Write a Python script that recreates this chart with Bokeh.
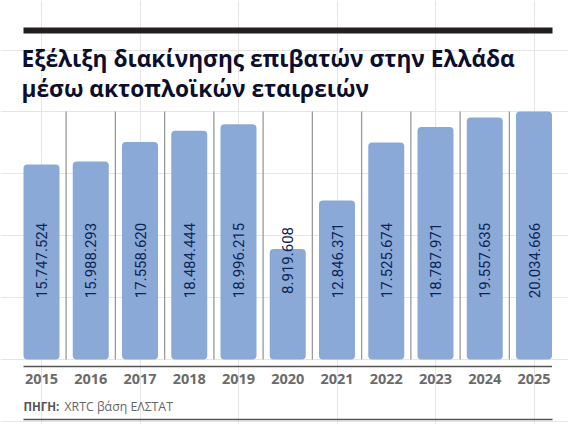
import math
from bokeh.plotting import figure
from bokeh.models import Range1d, ColumnDataSource
from bokeh.core.properties import value
from bokeh.embed import file_html
from bokeh.resources import INLINE

# ---- data ----
years = ["2015", "2016", "2017", "2018", "2019", "2020", "2021", "2022", "2023", "2024", "2025"]
passengers = [15747524, 15988293, 17558620, 18484444, 18996215, 8919608, 12846371,
              17525674, 18787971, 19557635, 20034666]
value_labels = ["15.747.524", "15.988.293", "17.558.620", "18.484.444", "18.996.215", "8.919.608",
                "12.846.371", "17.525.674", "18.787.971", "19.557.635", "20.034.666"]
title_lines = ["Εξέλιξη διακίνησης επιβατών στην Ελλάδα", "μέσω ακτοπλοϊκών εταιρειών"]
source_bold = "ΠΗΓΗ:"
source_text = "XRTC βάση ΕΛΣΤΑΤ"

# ---- layout constants ----
W, H = 568, 424
PX_PER_CAT = 49.25
FIRST_CENTER_PX = 41.0
PX_PER_UNIT = 12.38e-6      # pixels per passenger
ZERO_PX = 359.0             # canvas y (from top) of value 0

x_start = -FIRST_CENTER_PX / PX_PER_CAT
x_end = x_start + W / PX_PER_CAT
y_start = -(H - ZERO_PX) / PX_PER_UNIT
y_end = y_start + H / PX_PER_UNIT


def y_at(px):
    """data value at a canvas pixel row (from top)"""
    return y_start + (H - px) / PX_PER_UNIT


BAR_COLOR = "#8aa9d6"
LABEL_COLOR = "#0d2456"
TITLE_COLOR = "#0b0e2c"
YEAR_COLOR = "#6b6b6b"

p = figure(width=W, height=H, output_backend="svg", toolbar_location=None,
           x_axis_location=None, y_axis_location=None,
           x_range=Range1d(x_start, x_end), y_range=Range1d(y_start, y_end),
           min_border=0, min_border_left=0, min_border_right=0,
           min_border_top=0, min_border_bottom=0)
p.outline_line_color = None
p.background_fill_color = "white"
p.border_fill_color = "white"
p.extra_x_ranges = {"px": Range1d(0, W)}
p.extra_y_ranges = {"px": Range1d(H, 0)}

idx = list(range(len(years)))
src = ColumnDataSource(dict(x=idx, top=passengers, label=value_labels, year=years))

# separators between bars
sep_x = [i + 0.5 for i in idx[:-1]]
p.segment(x0=sep_x, x1=sep_x, y0=[0] * len(sep_x), y1=[max(passengers)] * len(sep_x),
          line_color="#9a9a9a", line_width=1.3)

# bars
BAR_W = 36 / PX_PER_CAT
p.vbar(x="x", top="top", bottom=0, width=BAR_W, source=src,
       fill_color=BAR_COLOR, line_color=None, border_radius=4)

# value labels (rotated), centred at a fixed height
label_y = 8.0e6
p.text(x="x", y=label_y, text="label", source=src, angle=math.pi / 2,
       text_align="center", text_baseline="middle",
       text_font=value("Roboto"), text_font_size="15px", text_color=LABEL_COLOR)

# year labels
p.text(x="x", y=y_at(378), text="year", source=src,
       text_align="center", text_baseline="middle",
       text_font=value("Open Sans"), text_font_style="bold", text_font_size="14.5px",
       text_color=YEAR_COLOR)

# baseline under the bars
base_y = y_at(366)
p.segment(x0=[0 - BAR_W / 2], x1=[len(years) - 1 + BAR_W / 2],
          y0=[base_y], y1=[base_y],
          line_color="#555555", line_width=1.6)

# decorations in pixel coordinates
p.quad(left=[23], right=[552], top=[27], bottom=[33], fill_color="#231f20", line_color=None,
       x_range_name="px", y_range_name="px")
p.text(x=[21, 21], y=[58, 88], text=title_lines, x_range_name="px", y_range_name="px",
       text_align="left", text_baseline="middle",
       text_font=value("Open Sans"), text_font_style="bold", text_font_size="22.7px",
       text_color=TITLE_COLOR)
p.text(x=[23], y=[406], text=[source_bold], x_range_name="px", y_range_name="px",
       text_align="left", text_baseline="middle",
       text_font=value("Open Sans"), text_font_style="bold", text_font_size="11.5px",
       text_color="#555555")
p.text(x=[64], y=[406], text=[source_text], x_range_name="px", y_range_name="px",
       text_align="left", text_baseline="middle",
       text_font=value("Open Sans"), text_font_size="12.3px",
       text_color="#666666")
p.segment(x0=[23], x1=[552], y0=[419], y1=[419], line_color="#555555", line_width=1.6,
          x_range_name="px", y_range_name="px")

open("out.html", "w").write(file_html(p, INLINE))
